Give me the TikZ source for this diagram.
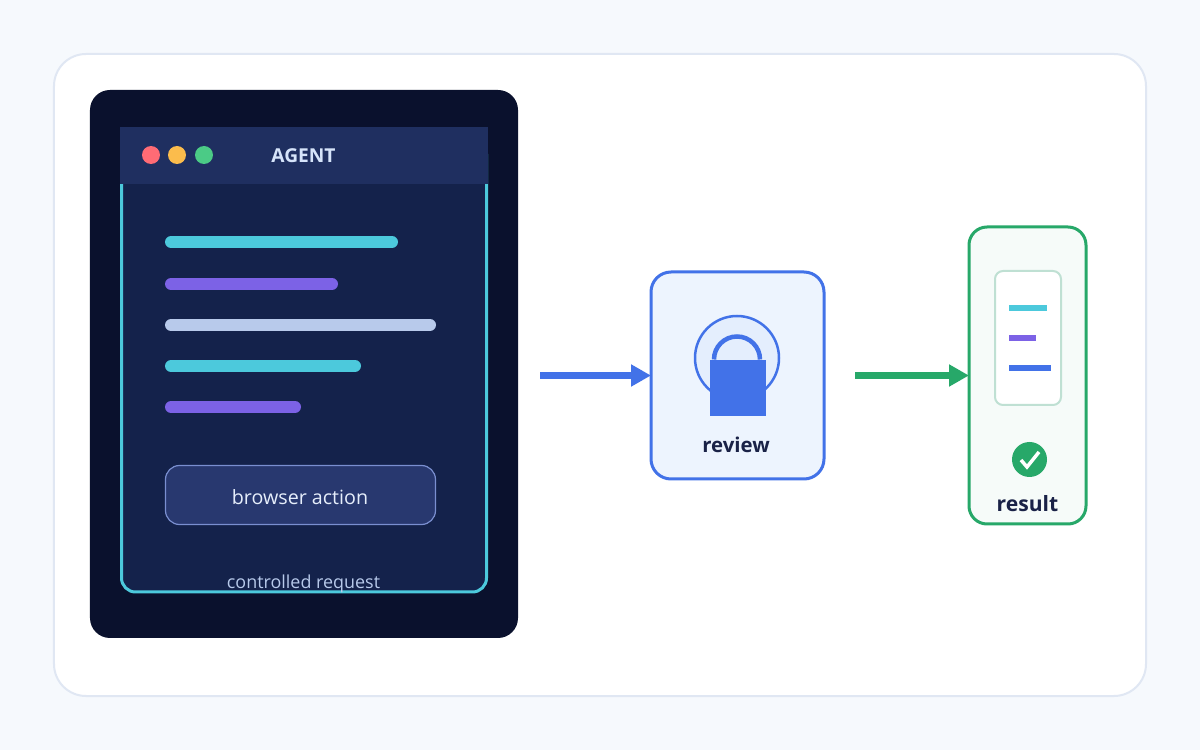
\documentclass[tikz,border=0pt]{standalone}
\usepackage{fontspec}
\setmainfont{Open Sans}
\usetikzlibrary{arrows.meta}
\definecolor{pagebg}{HTML}{F6F9FD}
\definecolor{cardline}{HTML}{E0E7F3}
\definecolor{panelbg}{HTML}{0A112D}
\definecolor{screenbg}{HTML}{14224B}
\definecolor{headbg}{HTML}{1F2F60}
\definecolor{tealc}{HTML}{4CC9DC}
\definecolor{violetc}{HTML}{7C62E6}
\definecolor{paleblue}{HTML}{B8CAEB}
\definecolor{buttonbg}{HTML}{28386F}
\definecolor{buttonline}{HTML}{7A8FD0}
\definecolor{bluec}{HTML}{4272E8}
\definecolor{greenc}{HTML}{27A869}
\definecolor{inkc}{HTML}{1A2247}
\definecolor{dotred}{HTML}{FF6B75}
\definecolor{dotyellow}{HTML}{FBBC4C}
\definecolor{dotgreen}{HTML}{4BCB86}
\definecolor{titlec}{HTML}{D6E4FA}
\definecolor{actionc}{HTML}{E6EEFB}
\definecolor{reviewbg}{HTML}{EDF4FE}
\definecolor{haloc}{HTML}{E4EEFD}
\definecolor{resultbg}{HTML}{F6FBF9}
\definecolor{docline}{HTML}{BFE0D3}
\begin{document}
\begin{tikzpicture}
        [bar/.style={line width=.12cm, line cap=round},
         go arrow/.style={line width=.065cm, -{Triangle[length=.2cm,width=.21cm]}},
         step box/.style={draw, line width=.03cm, rounded corners=.2cm, inner sep=0, outer sep=0},
         tag/.style={text=inkc, font=\fontsize{5.8}{7}\selectfont\bfseries, inner sep=0}]
        \useasboundingbox (0,0) rectangle (12,7.5);
        %background and card
            \fill[pagebg] (0,0) rectangle (12,7.5);
            \draw[line width=.02cm, cardline, fill=white, rounded corners=.32cm] (.54,.54) rectangle (11.46,6.96);
        %dark panel and screen
            \fill[panelbg, rounded corners=.2cm] (.90,1.12) rectangle (5.18,6.60);
            \draw[line width=.03cm, tealc, fill=screenbg, rounded corners=.14cm] (1.215,1.58) rectangle (4.865,6.10);
            \fill[headbg] (1.20,5.66) rectangle (4.88,6.23);
        %window dots
            \fill[dotred] (1.51,5.95) circle (.09);
            \fill[dotyellow] (1.77,5.95) circle (.09);
            \fill[dotgreen] (2.04,5.95) circle (.09);
            \node (title) at (3.035,5.94)[text=titlec, font=\fontsize{5.45}{7}\selectfont\bfseries, inner sep=0]{AGENT};
        %text bars
            \draw[bar, tealc] (1.71,5.08)--++ (2.21,0);
            \draw[bar, violetc] (1.71,4.66)--++ (1.61,0);
            \draw[bar, paleblue] (1.71,4.25)--++ (2.59,0);
            \draw[bar, tealc] (1.71,3.84)--++ (1.84,0);
            \draw[bar, violetc] (1.71,3.43)--++ (1.24,0);
        %button and caption
            \node (action) at (3.005,2.55)[draw=buttonline, fill=buttonbg, line width=.012cm, rounded corners=.14cm, minimum width=2.70cm, minimum height=.59cm, inner sep=0]{};
            \node (actiontag) at (3.00,2.53)[text=actionc, font=\fontsize{5.6}{7}\selectfont, inner sep=0]{browser action};
            \node (caption) at (3.035,1.66)[text=paleblue, font=\fontsize{5.1}{6}\selectfont, inner sep=0]{controlled request};
        %review box with lock
            \node (review) at (7.375,3.745)[step box, draw=bluec, fill=reviewbg, minimum width=1.73cm, minimum height=2.07cm]{};
            \draw[line width=.025cm, bluec, fill=haloc] (7.37,3.92) circle (.42);
            \draw[line width=.045cm, bluec] (7.14,3.905) arc (180:0:.23);
            \fill[bluec] (7.10,3.34) rectangle (7.66,3.90);
            \node (reviewtag) at (7.36,3.05)[tag]{review};
        %result box with document
            \node (result) at (10.275,3.745)[step box, draw=greenc, fill=resultbg, rounded corners=.18cm, minimum width=1.17cm, minimum height=2.97cm]{};
            \draw[line width=.02cm, draw=docline, fill=white, rounded corners=.08cm] (9.95,3.45) rectangle (10.61,4.79);
            \fill[tealc] (10.09,4.39) rectangle (10.47,4.45);
            \fill[violetc] (10.09,4.09) rectangle (10.36,4.15);
            \fill[bluec] (10.09,3.79) rectangle (10.51,3.85);
            \fill[greenc] (10.295,2.905) circle (.175);
            \draw[line width=.035cm, white] (10.21,2.90)--(10.27,2.83)--(10.39,2.98);
            \node (resulttag) at (10.275,2.46)[tag, font=\fontsize{6}{7}\selectfont\bfseries]{result};
        %arrows
            \coordinate (reviewin) at (5.40,3.745);
            \coordinate (resultin) at (8.55,3.745);
            \draw[go arrow, bluec] (reviewin)--(review.west);
            \draw[go arrow, greenc] (resultin)--(result.west);
    \end{tikzpicture}
\end{document}
